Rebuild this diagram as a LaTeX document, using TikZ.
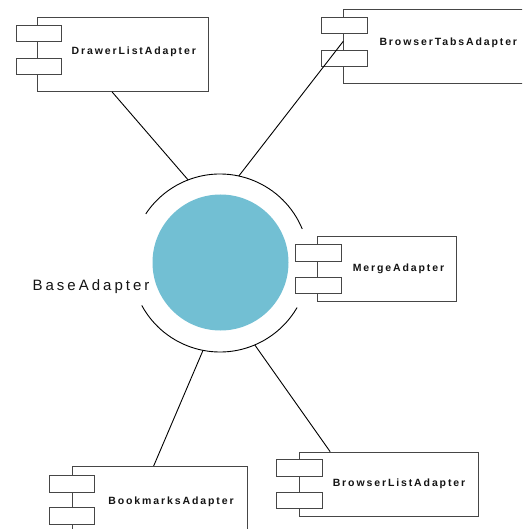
\documentclass[tikz,border=0pt]{standalone}
\usepackage{fontspec}
\usetikzlibrary{calc}
\newfontfamily\lblfont[LetterSpace=18]{Liberation Sans}
\newfontfamily\basefont[LetterSpace=20]{Liberation Sans}
\definecolor{boxgray}{RGB}{70,70,70}
\definecolor{textgray}{RGB}{20,20,20}
\definecolor{cyanfill}{RGB}{114,191,211}
\tikzset{
  comp/.style={draw=boxgray, line width=0.9pt, fill=white, inner sep=0pt, anchor=north west},
  port/.style={draw=boxgray, line width=0.9pt, fill=white, inner sep=0pt, minimum width=45.5pt, minimum height=16.5pt, anchor=north west},
  lbl/.style={font=\lblfont\bfseries\fontsize{10.5}{12}\selectfont, text=textgray, inner sep=0pt},
  conn/.style={line width=0.9pt, draw=black},
  ring/.style={line width=0.9pt, draw=black},
}
\begin{document}
\begin{tikzpicture}[x=1pt,y=-1pt]
\useasboundingbox (0,0) rectangle (522,529);
\clip (0,0) rectangle (522,529);
\fill[white] (0,0) rectangle (522,529);

% central interface
\node (base) [circle, fill=cyanfill, minimum size=136pt, inner sep=0pt] at (220.5,262.5) {};
\coordinate (C) at (220,263);
\draw[ring] ($(C)+(22.5:89pt)$) arc[start angle=22.5, end angle=146.5, radius=89pt];
\draw[ring] ($(C)+(208.5:89pt)$) arc[start angle=208.5, end angle=330, radius=89pt];
\node (baselbl) [font=\basefont\fontsize{15}{17}\selectfont, text=textgray, inner sep=0pt] at (91,286.5) {BaseAdapter};

\coordinate (pDL) at ($(C)+(111:89pt)$);
\coordinate (pBT) at ($(C)+(77.8:89pt)$);
\coordinate (pBM) at ($(C)+(259:89pt)$);
\coordinate (pBL) at ($(C)+(293:89pt)$);

% DrawerListAdapter
\node (dl) [comp, minimum width=171pt, minimum height=73.7pt] at (37.3,17.3) {};
\node (dlp1) [port] at (15.5,25) {};
\node (dlp2) [port] at (15.5,57.7) {};
\node (dll) [lbl] at (133.8,51.5) {DrawerListAdapter};

% BrowserTabsAdapter
\node (bt) [comp, minimum width=185pt, minimum height=73.4pt] at (343.3,9.3) {};
\node (btp1) [port] at (321,16.7) {};
\node (btp2) [port] at (321,50) {};
\node (btl) [lbl] at (448.3,42.5) {BrowserTabsAdapter};

% MergeAdapter
\node (ma) [comp, minimum width=138.7pt, minimum height=65pt] at (317.3,235.7) {};
\node (map1) [port] at (295,244) {};
\node (map2) [port] at (295,276.5) {};
\node (mal) [lbl] at (398.5,269) {MergeAdapter};

% BookmarksAdapter
\node (bm) [comp, minimum width=174.4pt, minimum height=80pt] at (72.3,466) {};
\node (bmp1) [port] at (48.5,475) {};
\node (bmp2) [port] at (48.5,507.3) {};
\node (bml) [lbl] at (171,501.5) {BookmarksAdapter};

% BrowserListAdapter
\node (bl) [comp, minimum width=179.3pt, minimum height=64.3pt] at (299,451.7) {};
\node (blp1) [port] at (276,459.3) {};
\node (blp2) [port] at (276,491.7) {};
\node (bll) [lbl] at (399,484) {BrowserListAdapter};

% connectors
\draw[conn] ($(dl.south west)!0.435!(dl.south east)$) -- (pDL);
\draw[conn] ($(bt.north west)!0.43!(bt.south west)$) -- (pBT);
\draw[conn] ($(bm.north west)!0.464!(bm.north east)$) -- (pBM);
\draw[conn] ($(bl.north west)!0.173!(bl.north east)$) -- (pBL);
\end{tikzpicture}
\end{document}
